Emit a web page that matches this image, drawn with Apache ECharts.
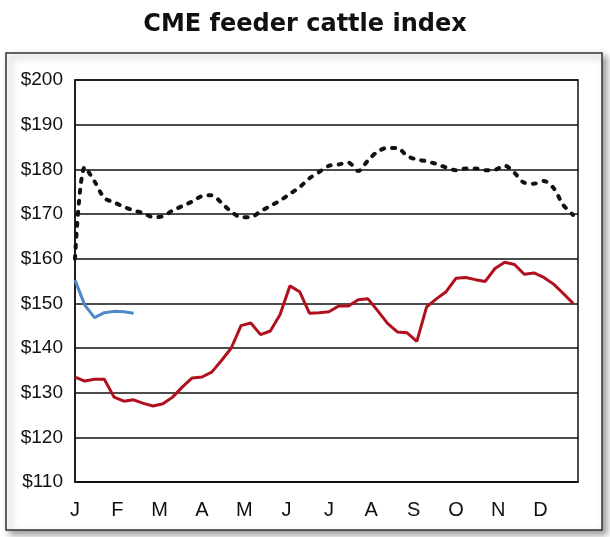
<!DOCTYPE html>
<html>
<head>
<meta charset="utf-8">
<script src="https://cdn.jsdelivr.net/npm/echarts@6/dist/echarts.min.js"></script>
<style>
html,body{margin:0;padding:0;background:#fff;}
#chart{width:610px;height:537px;}
</style>
</head>
<body>
<div id="chart"></div>
<script>
var monthLabels = ['J','F','M','A','M','J','J','A','S','O','N','D'];
var yTicks = [110,120,130,140,150,160,170,180,190,200];

// Weekly values (week 0 = first week of January)
var avgValues = [160,180.5,177.3,173.6,172.6,171.6,170.8,170.2,169.3,169.5,
  170.8,171.8,172.8,174,174.2,172.5,170.5,169.3,169.3,170.6,
  171.8,173,174.5,176,178,179.4,180.8,181.1,181.5,179.6,
  182,184,184.8,184.8,183,182.2,181.8,181.2,180.4,179.8,
  180.2,180.2,179.8,179.9,180.8,179.2,177,176.8,177.4,175.8,
  172,169.8];
var lastYearValues = [133.5,132.6,133,133,129,128.1,128.4,127.6,127,127.5,
  129,131.3,133.3,133.5,134.6,137.2,140,145,145.6,143,
  143.8,147.5,153.9,152.6,147.8,147.9,148.1,149.4,149.4,150.8,
  151,148.3,145.5,143.6,143.4,141.5,149.2,151,152.6,155.6,
  155.8,155.3,154.9,157.8,159.2,158.7,156.5,156.8,155.8,154.3,
  152.2,150];
var thisYearValues = [155.2,149.6,146.8,147.9,148.2,148.1,147.8];

function toPairs(arr){ return arr.map(function(v,i){ return [i, v]; }); }

var weeksPerMonth = 52/12;
var chart = echarts.init(document.getElementById('chart'));
chart.setOption({
  animation: false,
  backgroundColor: '#ffffff',
  title: {
    text: 'CME feeder cattle index',
    left: 'center',
    top: 8,
    textStyle: {fontFamily: 'DejaVu Sans', fontWeight: 'bold', fontSize: 24, color: '#111'}
  },
  graphic: [{
    type: 'rect',
    z: -10,
    shape: {x: 6, y: 53, width: 596, height: 477},
    style: {fill: '#fff', stroke: '#333', lineWidth: 1.5,
      shadowColor: 'rgba(0,0,0,0.4)', shadowBlur: 7, shadowOffsetX: 4, shadowOffsetY: 4}
  }],
  grid: {left: 75, right: 32, top: 80, bottom: 55, show: true, borderColor: '#111', borderWidth: 1.5, backgroundColor: 'transparent'},
  xAxis: {
    type: 'value', min: 0, max: 51.5, interval: weeksPerMonth,
    axisLine: {show: true, lineStyle: {color: '#111', width: 1.5}},
    axisTick: {show: false},
    splitLine: {show: false},
    axisLabel: {
      margin: 18, color: '#111', fontFamily: 'Liberation Sans', fontSize: 20,
      formatter: function(v){ var i = Math.round(v/weeksPerMonth); return monthLabels[i] || ''; }
    }
  },
  yAxis: {
    type: 'value', min: yTicks[0], max: yTicks[yTicks.length-1], interval: 10,
    axisLine: {show: true, lineStyle: {color: '#111', width: 1.5}},
    axisTick: {show: false},
    splitLine: {show: true, lineStyle: {color: '#111', width: 1.5}},
    axisLabel: {margin: 12, color: '#111', fontFamily: 'Liberation Sans', fontSize: 19,
      formatter: function(v){ return '$' + v; }}
  },
  series: [
    {type: 'line', data: toPairs(avgValues), showSymbol: false, smooth: 0.3,
      lineStyle: {color: '#111', width: 4, type: [3, 8], cap: 'round'}, z: 3},
    {type: 'line', data: toPairs(lastYearValues), showSymbol: false,
      lineStyle: {color: '#b0101e', width: 3}, z: 4},
    {type: 'line', data: toPairs(thisYearValues), showSymbol: false,
      lineStyle: {color: '#4f88c6', width: 3}, z: 5}
  ]
});
</script>
</body>
</html>
